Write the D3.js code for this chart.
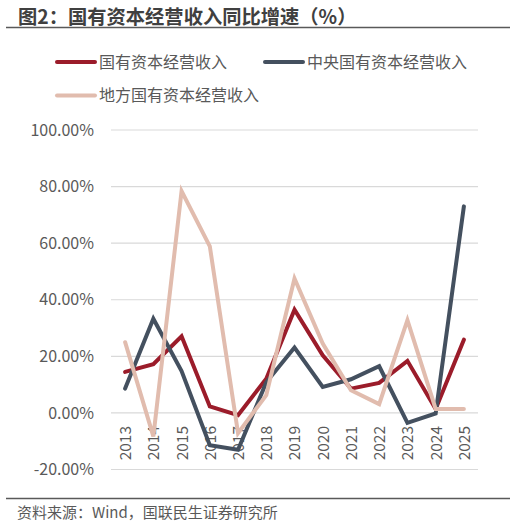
<!DOCTYPE html>
<html><head><meta charset="utf-8">
<script src="https://cdn.jsdelivr.net/npm/d3@7"></script>
<style>
html,body{margin:0;padding:0;background:#fff;}
svg{display:block;font-family:"Noto Sans CJK SC","Noto Sans",sans-serif;}
</style></head>
<body>
<svg id="chart" width="516" height="526"></svg>
<script>
const title = "图2：国有资本经营收入同比增速（%）";
const source = "资料来源：Wind，国联民生证券研究所";
const years = ["2013","2014","2015","2016","2017","2018","2019","2020","2021","2022","2023","2024","2025"];
const seriesNames = ["国有资本经营收入","中央国有资本经营收入","地方国有资本经营收入"];
const totalValues   = [14.5, 17.2, 27.1, 2.3, -0.8, 12.1, 36.5, 20.4, 8.6, 10.6, 18.4, 1.4, 25.9];
const centralValues = [8.6, 33.3, 14.8, -11.4, -13.0, 10.8, 23.1, 9.2, 11.9, 16.5, -3.5, -0.2, 73.0];
const localValues   = [25.0, -8.3, 78.4, 58.9, -7.2, 6.3, 47.5, 24.5, 8.0, 3.1, 32.8, 1.4, 1.4];
const yTicks = [-20, 0, 20, 40, 60, 80, 100];
const colors = ["#9B1C2A", "#44505F", "#E1BCAE"];

const svg = d3.select("#chart");
const x = d3.scalePoint().domain(years).range([111, 478]).padding(0.5);
const y = d3.scaleLinear().domain([-20, 100]).range([469.5, 130]);

// title
svg.append("text").attr("x", 18).attr("y", 24).attr("font-size", 19.3).attr("font-weight", "bold")
  .attr("fill", "#404040").text(title);
svg.append("line").attr("x1", 6).attr("x2", 510).attr("y1", 27.5).attr("y2", 27.5)
  .attr("stroke", "#595959").attr("stroke-width", 1.5);

// legend
const legendPos = [[55, 62], [263, 62], [55, 95.5]];
seriesNames.forEach((n, i) => {
  const [lx, ly] = legendPos[i];
  svg.append("line").attr("x1", lx + 2).attr("x2", lx + 40).attr("y1", ly).attr("y2", ly)
    .attr("stroke", colors[i]).attr("stroke-width", 4).attr("stroke-linecap", "round");
  svg.append("text").attr("x", lx + 44).attr("y", ly).attr("dy", "0.35em").attr("font-size", 16)
    .attr("fill", "#595959").text(n);
});

// gridlines + y labels
const yAxis = d3.axisLeft(y).tickValues(yTicks).tickSize(0).tickPadding(0)
  .tickFormat(d => d.toFixed(2) + "%");
const gy = svg.append("g").attr("transform", "translate(94,0)").call(yAxis);
gy.select(".domain").remove();
gy.selectAll("text").attr("font-size", 16).attr("fill", "#595959")
  .attr("font-family", "'Noto Sans CJK SC','Noto Sans',sans-serif");
svg.append("g").selectAll("line").data(yTicks).join("line")
  .attr("x1", 111).attr("x2", 478).attr("y1", d => y(d)).attr("y2", d => y(d))
  .attr("stroke", "#D9D9D9").attr("stroke-width", 1.2);

// x labels
const xAxis = d3.axisBottom(x).tickSize(0).tickPadding(0);
const gx = svg.append("g").attr("transform", `translate(0,${y(0)})`).call(xAxis);
gx.select(".domain").remove();
gx.selectAll("text").attr("font-size", 15.5).attr("fill", "#595959")
  .attr("font-family", "'Noto Sans CJK SC','Noto Sans',sans-serif")
  .attr("text-anchor", "end").attr("transform", "translate(0,13) rotate(-90)")
  .attr("x", 0).attr("y", 0).attr("dy", "0.35em");

// lines
const line = d3.line().x((d, i) => x(years[i])).y(d => y(d));
[totalValues, centralValues, localValues].forEach((vals, i) => {
  svg.append("path").datum(vals).attr("d", line).attr("fill", "none")
    .attr("stroke", colors[i]).attr("stroke-width", 4)
    .attr("stroke-linejoin", "miter").attr("stroke-linecap", "round");
});

// footer
svg.append("line").attr("x1", 6).attr("x2", 510).attr("y1", 498.5).attr("y2", 498.5)
  .attr("stroke", "#595959").attr("stroke-width", 1.5);
svg.append("text").attr("x", 17).attr("y", 513).attr("dy", "0.35em").attr("font-size", 15)
  .attr("fill", "#595959").text(source);
</script>
</body></html>
